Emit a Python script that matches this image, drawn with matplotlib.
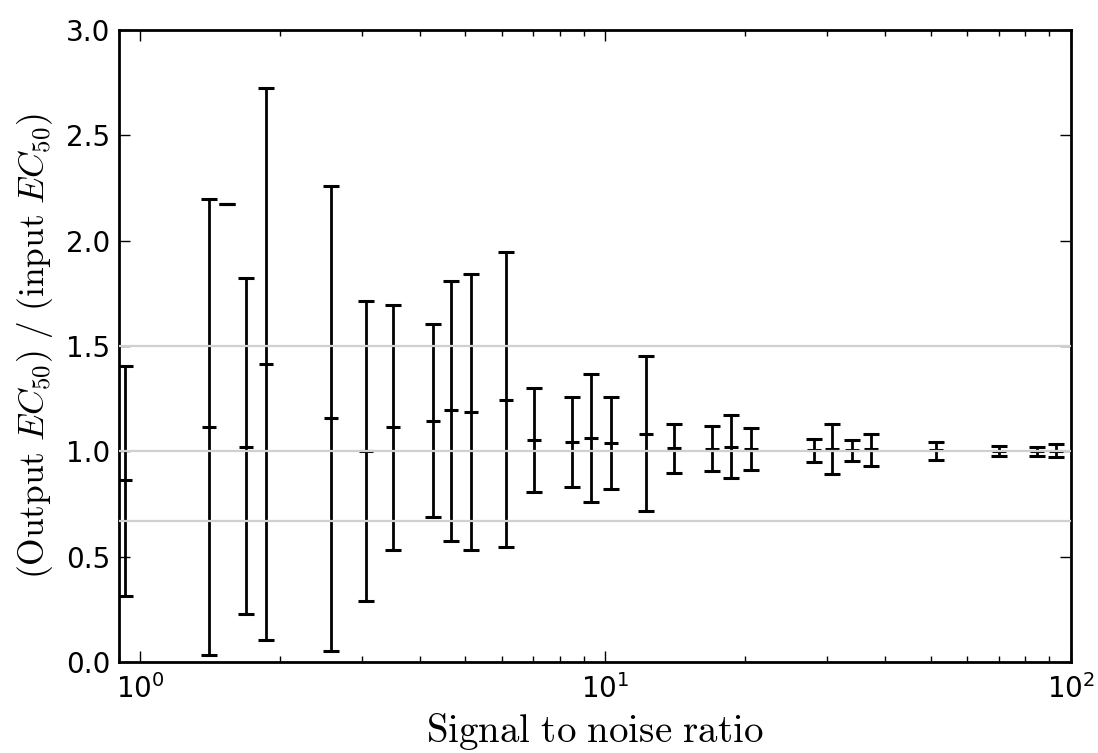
import numpy as np
import matplotlib
matplotlib.use("Agg")
import matplotlib.pyplot as plt

# signal to noise ratio, lower bound, median, upper bound of EC50 ratio
snr = [0.927, 1.403, 1.536, 1.690, 1.863, 2.566, 3.061, 3.499, 4.252, 4.664,
       5.132, 6.122, 7.012, 8.487, 9.326, 10.28, 12.24, 14.01, 16.98, 18.63,
       20.53, 28.10, 30.67, 33.91, 37.25, 51.32, 70.23, 84.87, 93.11]
low = [0.315, 0.033, 2.176, 0.226, 0.105, 0.051, 0.288, 0.533, 0.687, 0.576,
       0.530, 0.546, 0.808, 0.830, 0.760, 0.822, 0.715, 0.897, 0.907, 0.871,
       0.910, 0.948, 0.890, 0.953, 0.932, 0.960, 0.976, 0.979, 0.972]
med = [0.862, 1.114, 2.176, 1.022, 1.415, 1.156, 1.003, 1.116, 1.145, 1.194,
       1.186, 1.244, 1.055, 1.044, 1.065, 1.039, 1.084, 1.014, 1.011, 1.020,
       1.011, 1.008, 1.011, 1.006, 1.011, 1.005, 1.000, 1.000, 1.000]
high = [1.406, 2.196, 2.176, 1.821, 2.726, 2.259, 1.716, 1.696, 1.605, 1.808,
        1.844, 1.945, 1.300, 1.259, 1.369, 1.259, 1.454, 1.131, 1.118, 1.173,
        1.110, 1.060, 1.132, 1.055, 1.083, 1.043, 1.024, 1.021, 1.035]
ref_lines = [1.5, 1.0, 1 / 1.5]

plt.rcParams['mathtext.fontset'] = 'cm'
plt.rcParams['font.family'] = 'DejaVu Sans'

snr = np.array(snr)
low = np.array(low)
med = np.array(med)
high = np.array(high)

fig = plt.figure(figsize=(10.98, 7.53), dpi=100)
ax = fig.add_axes([0.108, 0.121, 0.867, 0.839])

ax.errorbar(snr, med, yerr=[med - low, high - med], fmt='_', color='k',
            ms=9.5, mew=2.2, elinewidth=2, capsize=5.5, capthick=1.5)
for v in ref_lines:
    ax.axhline(v, color='#d0d0d0', lw=1.6, zorder=5)

ax.set_xscale('log')
ax.set_xlim(0.898, 100)
ax.set_ylim(0, 3)
ax.set_yticks(np.arange(0, 3.01, 0.5))

for s in ax.spines.values():
    s.set_linewidth(2)
ax.tick_params(which='both', direction='in', top=True, right=True, width=1)
ax.tick_params(which='major', length=8, labelsize=20, pad=6)
ax.tick_params(which='minor', length=4)
ax.tick_params(axis='x', which='major', pad=9)

ax.set_xlabel(r'$\mathrm{Signal\ to\ noise\ ratio}$', fontsize=28, labelpad=5)
ax.set_ylabel(r'$(\mathrm{Output}\ EC_{50})\ /\ (\mathrm{input}\ EC_{50})$', fontsize=25.5, labelpad=8)

fig.savefig('out.png', dpi=100, facecolor='white')
